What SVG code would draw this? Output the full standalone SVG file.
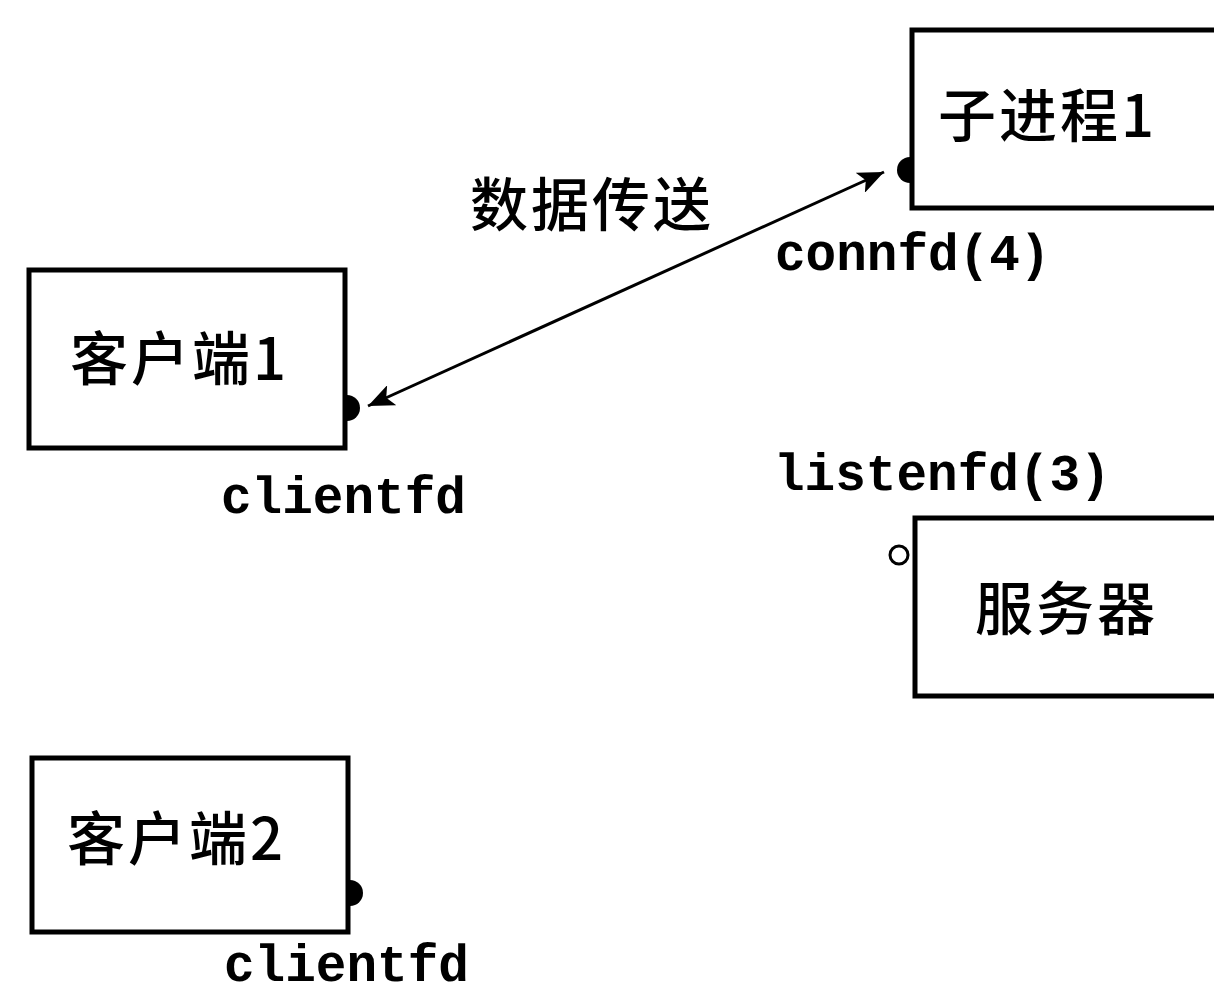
<svg xmlns="http://www.w3.org/2000/svg" width="1214" height="996" viewBox="0 0 1214 996">
<style>
.box{fill:#fff;stroke:#000;stroke-width:5}
.cjk{font-family:"Noto Sans CJK SC","Noto Sans",sans-serif;font-size:58px;font-weight:500;fill:#000;letter-spacing:3px}
.mono{font-family:"Liberation Mono",monospace;font-size:51px;font-weight:bold;fill:#000}
.conn{stroke:#000;stroke-width:3;fill:none}
.dot{fill:#000}
</style>
<defs>
<marker id="arr" viewBox="0 0 26 22" refX="26" refY="11" markerWidth="26" markerHeight="22" markerUnits="userSpaceOnUse" orient="auto-start-reverse">
<path d="M0,0 L26,11 L0,22 L6,11 z" fill="#000"/>
</marker>
</defs>
<rect width="1214" height="996" fill="#fff"/>
<g id="client1">
<circle class="dot" cx="347" cy="408" r="13"/>
<rect class="box" x="29" y="270" width="316" height="178"/>
<text class="cjk" x="70" y="380">客户端1</text>
<text class="mono" x="221" y="513">clientfd</text>
</g>
<g id="client2">
<circle class="dot" cx="350" cy="893" r="13"/>
<rect class="box" x="32" y="758" width="316" height="174"/>
<text class="cjk" x="67" y="860">客户端2</text>
<text class="mono" x="224" y="981">clientfd</text>
</g>
<g id="child1">
<circle class="dot" cx="910" cy="170" r="13"/>
<rect class="box" x="912" y="30" width="320" height="178"/>
<text class="cjk" x="938" y="137">子进程1</text>
<text class="mono" x="775" y="270">connfd(4)</text>
</g>
<g id="server">
<rect class="box" x="915" y="518" width="320" height="178"/>
<text class="cjk" x="975" y="630">服务器</text>
<circle cx="899" cy="555" r="9" fill="#fff" stroke="#000" stroke-width="3"/>
<text class="mono" x="774" y="490">listenfd(3)</text>
</g>
<g id="connectors">
<line class="conn" x1="368" y1="406" x2="884" y2="172" marker-start="url(#arr)" marker-end="url(#arr)"/>
<text class="cjk" x="470" y="226">数据传送</text>
</g>
</svg>
